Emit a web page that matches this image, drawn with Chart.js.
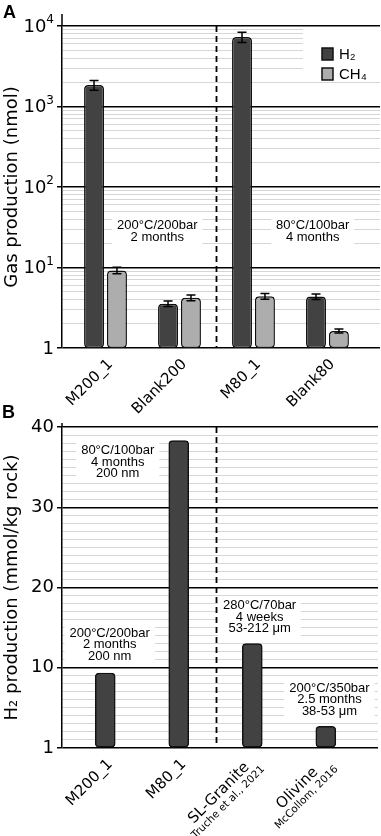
<!DOCTYPE html>
<html>
<head>
<meta charset="utf-8">
<script src="https://cdn.jsdelivr.net/npm/chart.js@4.4.1/dist/chart.umd.min.js"></script>
<style>
  html, body { margin: 0; padding: 0; background: #fff; }
  canvas { position: absolute; left: 0; }
  #chartA { top: 0; }
  #chartB { top: 400px; }
</style>
</head>
<body>
<canvas id="chartA" width="381" height="430"></canvas>
<canvas id="chartB" width="381" height="436"></canvas>
<script>
// --- panel A : gas production (nmol), log axis
const samplesA = ['M200_1', 'Blank200', 'M80_1', 'Blank80'];
const h2A = [1850, 3.55, 7300, 4.35];
const h2ErrA = [260, 0.28, 1050, 0.35];
const ch4A = [9.2, 4.2, 4.4, 1.63];
const ch4ErrA = [0.85, 0.35, 0.37, 0.09];
const ticksA = [1, 10, 100, 1000, 10000];
const tickLabelsA = ['1', '10¹', '10²', '10³', '10⁴'];
const condA200 = ['200°C/200bar', '2 months'];
const condA80 = ['80°C/100bar', '4 months'];

// --- panel B : H2 production (mmol/kg rock)
const samplesB = ['M200_1', 'M80_1', 'SL-Granite', 'Olivine'];
const refsB = ['', '', 'Truche et al., 2021', 'McCollom, 2016'];
const h2B = [9.35, 38.3, 13.0, 2.7];
const ticksB = [0, 10, 20, 30, 40];
const tickLabelsB = ['1', '10', '20', '30', '40'];
const condB200 = ['200°C/200bar', '2 months', '200 nm'];
const condB80 = ['80°C/100bar', '4 months', '200 nm'];
const condGranite = ['280°C/70bar', '4 weeks', '53-212 μm'];
const condOlivine = ['200°C/350bar', '2.5 months', '38-53 μm'];

const DARK = '#424242';
const LIGHT = '#adadad';
const TICK_FONT = { family: 'DejaVu Sans', size: 18 };
const SUP = '⁰¹²³⁴⁵⁶⁷⁸⁹';

// dessins en plus : boites blanches, ligne pointillée, barres d'erreur, textes
const extras = {
  id: 'extras',
  beforeDatasetsDraw(chart, args, opts) {
    const { ctx, chartArea: a, scales: { x, y } } = chart;
    ctx.save();
    ctx.fillStyle = '#fff';
    ctx.font = '13px "Liberation Sans"';
    (opts.notes || []).forEach(n => {
      const w = Math.max(...n.lines.map(l => ctx.measureText(l).width));
      const cx = x.getPixelForValue(n.x), cy = y.getPixelForValue(n.y);
      const h = n.lines.length * 11.5;
      ctx.fillRect(cx - w / 2 - 5, cy - h / 2 - 3, w + 10, h + 6);
    });
    if (opts.legend) {
      ctx.fillRect(a.left + 241, a.top + 1, a.right - a.left - 241, 55);
    }
    // séparateur
    ctx.strokeStyle = '#000';
    ctx.lineWidth = 1.8;
    ctx.setLineDash([6, 4]);
    const dx = Math.round(x.getPixelForValue(opts.split)) + 0.5;
    ctx.beginPath();
    ctx.moveTo(dx, a.top);
    ctx.lineTo(dx, a.bottom);
    ctx.stroke();
    ctx.setLineDash([]);
    // prolongement de l'axe
    ctx.lineWidth = 1.5;
    ctx.beginPath();
    ctx.moveTo(a.left, a.top - opts.axisExt);
    ctx.lineTo(a.left, a.top);
    ctx.stroke();
    ctx.restore();
  },
  afterDatasetsDraw(chart, args, opts) {
    const { ctx, chartArea: a, scales: { x, y } } = chart;
    ctx.save();
    // barres d'erreur
    ctx.strokeStyle = '#000';
    ctx.lineWidth = 1.5;
    chart.data.datasets.forEach((ds, di) => {
      if (!ds.errors) return;
      chart.getDatasetMeta(di).data.forEach((bar, i) => {
        const v = ds.data[i].y, e = ds.errors[i];
        const t = y.getPixelForValue(v + e), b = y.getPixelForValue(v - e);
        ctx.beginPath();
        ctx.moveTo(bar.x, t); ctx.lineTo(bar.x, b);
        ctx.moveTo(bar.x - 4.5, t); ctx.lineTo(bar.x + 4.5, t);
        ctx.moveTo(bar.x - 4.5, b); ctx.lineTo(bar.x + 4.5, b);
        ctx.stroke();
      });
    });
    // conditions
    ctx.fillStyle = '#000';
    ctx.font = '13px "Liberation Sans"';
    ctx.textAlign = 'center';
    ctx.textBaseline = 'middle';
    (opts.notes || []).forEach(n => {
      const cx = x.getPixelForValue(n.x), cy = y.getPixelForValue(n.y);
      n.lines.forEach((l, k) => {
        ctx.fillText(l, cx, cy + (k - (n.lines.length - 1) / 2) * 11.5);
      });
    });
    // légende
    if (opts.legend) {
      ctx.textAlign = 'left';
      ctx.textBaseline = 'middle';
      ctx.font = '15px "Liberation Sans"';
      chart.data.datasets.forEach((ds, k) => {
        const lx = a.left + 260, ly = a.top + 22 + k * 20;
        ctx.fillStyle = ds.backgroundColor;
        ctx.fillRect(lx, ly, 11, 12);
        ctx.strokeStyle = '#111';
        ctx.lineWidth = 1.5;
        ctx.strokeRect(lx, ly, 11, 12);
        ctx.fillStyle = '#000';
        ctx.fillText(ds.label, lx + 17, ly + 7);
      });
    }
    // graduations en puissances de 10 (exposant plus grand que le glyphe unicode)
    if (opts.supTicks) {
      const { values, names } = opts.supTicks;
      ctx.fillStyle = '#000';
      ctx.textBaseline = 'middle';
      ctx.textAlign = 'right';
      values.forEach((v, k) => {
        const py = y.getPixelForValue(v);
        const name = names[k];
        const base = [...name].filter(c => !SUP.includes(c)).join('');
        const exp = [...name].filter(c => SUP.includes(c)).map(c => SUP.indexOf(c)).join('');
        const right = a.left - 8;
        let ew = 0;
        if (exp) {
          ctx.font = '12px "DejaVu Sans"';
          ew = ctx.measureText(exp).width;
          ctx.fillText(exp, right, py - 6);
        }
        ctx.font = '18px "DejaVu Sans"';
        ctx.fillText(base, right - ew, py + 1);
      });
    }
    // étiquettes de l'axe x, tournées de 45°
    const labels = opts.labels, subs = opts.subs || [];
    labels.forEach((lab, i) => {
      const px = x.getPixelForValue(i) + 5, py = a.bottom + 14;
      ctx.save();
      ctx.translate(px, py);
      ctx.rotate(-Math.PI / 4);
      ctx.fillStyle = '#000';
      ctx.textBaseline = 'middle';
      ctx.font = '15px "DejaVu Sans"';
      const sub = subs[i];
      if (!sub) {
        ctx.textAlign = 'right';
        ctx.fillText(lab, 0, 0);
      } else {
        const wm = ctx.measureText(lab).width;
        ctx.font = '10.5px "DejaVu Sans"';
        const ws = ctx.measureText(sub).width;
        const bw = Math.max(wm, ws);
        ctx.textAlign = 'center';
        ctx.fillText(sub, -bw / 2, 8);
        ctx.font = '15px "DejaVu Sans"';
        ctx.fillText(lab, -bw / 2, -5);
      }
      ctx.restore();
    });
    // lettre du panneau
    ctx.fillStyle = '#000';
    ctx.textAlign = 'left';
    ctx.textBaseline = 'alphabetic';
    ctx.font = 'bold 18px "Liberation Sans"';
    ctx.fillText(opts.letter, opts.letterX, 18);
    ctx.restore();
  }
};

function yAxis(title, majors, names, extra) {
  const isMajor = v => majors.includes(v);
  return Object.assign({
    grid: {
      color: c => isMajor(c.tick.value) ? '#000' : '#d6d6d6',
      lineWidth: c => isMajor(c.tick.value) ? 1.5 : 1,
      tickColor: c => isMajor(c.tick.value) ? '#000' : 'rgba(0,0,0,0)',
      tickLength: 5
    },
    border: { display: true, color: '#000', width: 1.5 },
    ticks: {
      autoSkip: false,
      padding: 3,
      color: '#000',
      font: TICK_FONT,
      callback: v => isMajor(v) ? names[majors.indexOf(v)] : ''
    },
    title: {
      display: true,
      text: title,
      color: '#000',
      font: { family: 'DejaVu Sans', size: 18 },
      padding: { top: 2, bottom: 0 }
    },
    afterFit: s => { s.width = 62; }
  }, extra);
}

// axe x lineaire : une graduation par échantillon (sert aussi à la largeur des barres)
function xAxis(samples) {
  return {
    type: 'linear', min: -0.588, max: 3.71, offset: false, display: false,
    afterBuildTicks: s => { s.ticks = samples.map((_, i) => ({ value: i })); }
  };
}

const barStyle = {
  borderColor: '#111',
  borderWidth: 1.5,
  borderRadius: 4,
  borderSkipped: false
};

const yA = yAxis('Gas production (nmol)', ticksA, tickLabelsA, {
  type: 'logarithmic',
  min: 1,
  max: 10000,
  afterBuildTicks: s => {
    const t = [];
    for (let p = 1; p < 10000; p *= 10) {
      for (let m = 1; m < 10; m++) t.push({ value: m * p });
    }
    t.push({ value: 10000 });
    s.ticks = t;
  }
});
// les libellés sont dessinés par le plugin (exposants)
yA.ticks.callback = () => '';

new Chart(document.getElementById('chartA'), {
  type: 'bar',
  data: {
    datasets: [
      Object.assign({
        label: 'H₂',
        data: samplesA.map((s, i) => ({ x: i, y: h2A[i] })),
        errors: h2ErrA,
        backgroundColor: DARK
      }, barStyle),
      Object.assign({
        label: 'CH₄',
        data: samplesA.map((s, i) => ({ x: i, y: ch4A[i] })),
        errors: ch4ErrA,
        backgroundColor: LIGHT
      }, barStyle)
    ]
  },
  options: {
    responsive: false,
    animation: false,
    categoryPercentage: 0.62,
    barPercentage: 0.87,
    layout: { padding: { top: 26, right: 1, bottom: 82, left: 0 } },
    scales: { x: xAxis(samplesA), y: yA },
    plugins: {
      legend: { display: false },
      tooltip: { enabled: false },
      extras: {
        letter: 'A', letterX: 3, split: 1.5, axisExt: 12, legend: true,
        labels: samplesA,
        supTicks: { values: ticksA, names: tickLabelsA },
        notes: [
          { x: 0.70, y: 28, lines: condA200 },
          { x: 2.80, y: 28, lines: condA80 }
        ]
      }
    }
  },
  plugins: [extras]
});

new Chart(document.getElementById('chartB'), {
  type: 'bar',
  data: {
    datasets: [
      Object.assign({
        label: 'H₂',
        data: samplesB.map((s, i) => ({ x: i, y: h2B[i] })),
        backgroundColor: DARK,
        barThickness: 20
      }, barStyle)
    ]
  },
  options: {
    responsive: false,
    animation: false,
    layout: { padding: { top: 27, right: 3, bottom: 88, left: 0 } },
    scales: {
      x: xAxis(samplesB),
      y: yAxis('H₂ production (mmol/kg rock)', ticksB, tickLabelsB, {
        type: 'linear',
        min: 0,
        max: 40,
        afterBuildTicks: s => {
          const t = [];
          for (let v = 0; v <= 40; v++) t.push({ value: v });
          s.ticks = t;
        }
      })
    },
    plugins: {
      legend: { display: false },
      tooltip: { enabled: false },
      extras: {
        letter: 'B', letterX: 2, split: 1.5, axisExt: 4, legend: false,
        labels: samplesB,
        subs: refsB,
        notes: [
          { x: 0.17, y: 35.6, lines: condB80 },
          { x: 0.06, y: 12.9, lines: condB200 },
          { x: 2.10, y: 16.3, lines: condGranite },
          { x: 3.05, y: 6.0, lines: condOlivine }
        ]
      }
    }
  },
  plugins: [extras]
});
</script>
</body>
</html>
